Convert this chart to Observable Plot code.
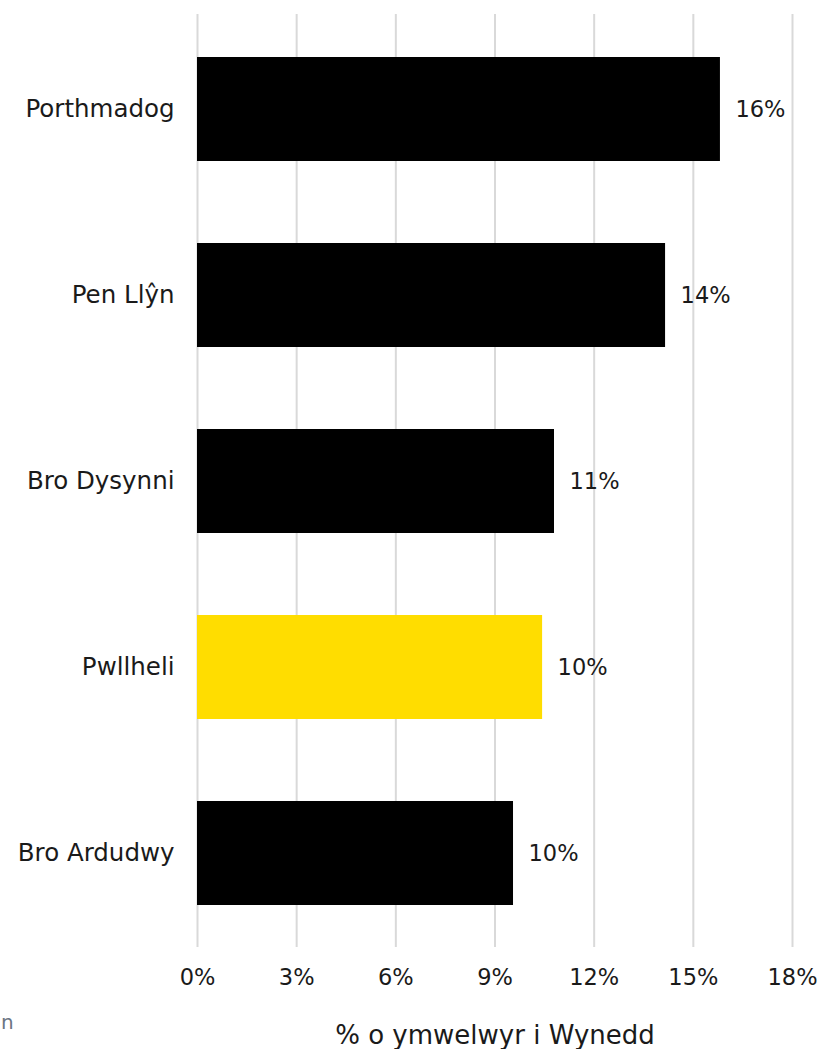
<!DOCTYPE html>
<html>
<head>
<meta charset="utf-8">
<script src="https://cdn.jsdelivr.net/npm/d3@7"></script>
<script src="https://cdn.jsdelivr.net/npm/@observablehq/plot@0.6"></script>
<style>
  html, body { margin: 0; padding: 0; background: #fff; }
  #wrap { position: relative; width: 818px; height: 1049px; overflow: hidden; }
  #note { position: absolute; left: 1px; top: 1010px; font: 20px "DejaVu Sans", sans-serif; color: #6b7583; }
</style>
</head>
<body>
<div id="wrap">
  <div id="chart"></div>
  <div id="note">n</div>
</div>
<script>
const areas = ["Porthmadog", "Pen Llŷn", "Bro Dysynni", "Pwllheli", "Bro Ardudwy"];
const shares = [15.82, 14.16, 10.8, 10.44, 9.56];
const highlighted = ["Pwllheli"];
const xTicks = [0, 3, 6, 9, 12, 15, 18];
const xTitle = "% o ymwelwyr i Wynedd";

const data = areas.map((a, i) => ({area: a, value: shares[i], hl: highlighted.includes(a)}));

const chart = Plot.plot({
  width: 818,
  height: 1049,
  marginLeft: 197,
  marginRight: 26,
  marginTop: 14,
  marginBottom: 102,
  style: {fontFamily: "'DejaVu Sans', sans-serif", fontSize: "22px", color: "#1a1a1a", background: "#fff"},
  x: {domain: [0, 18]},
  y: {domain: areas, paddingInner: 0.443, paddingOuter: 0.2215},
  marks: [
    Plot.gridX(xTicks, {stroke: "#d9d9d9", strokeOpacity: 1, strokeWidth: 2}),
    Plot.barX(data, {x: "value", y: "area", fill: d => d.hl ? "#FFDD00" : "#000000"}),
    Plot.text(data, {x: "value", y: "area", text: d => Math.round(d.value) + "%", textAnchor: "start", dx: 15, fill: "#1a1a1a", fontSize: 22.5}),
    Plot.axisY({tickSize: 0, tickPadding: 23, label: null, fontSize: 24.5}),
    Plot.axisX({ticks: xTicks, tickFormat: d => d + "%", tickSize: 0, tickPadding: 22, fontSize: 22.5, label: null}),
    Plot.text([xTitle], {frameAnchor: "bottom", dy: 96, fontSize: 26, fill: "#1a1a1a"})
  ]
});
document.getElementById("chart").appendChild(chart);
</script>
</body>
</html>
